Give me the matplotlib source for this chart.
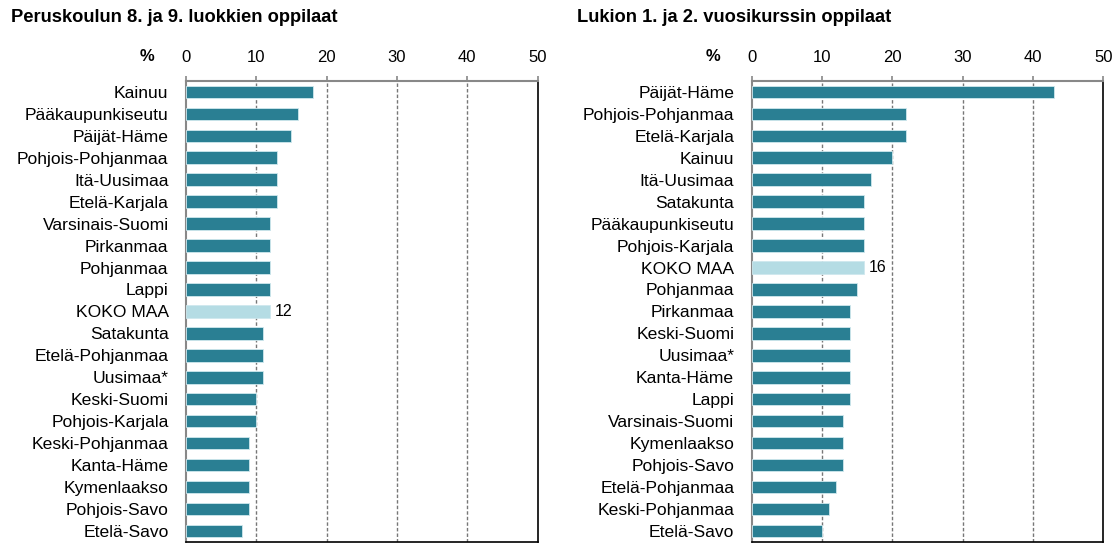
import matplotlib.pyplot as plt

plt.rcParams['font.family'] = ['Liberation Sans', 'DejaVu Sans']

# Peruskoulu 8.-9. lk
pk_alueet = ['Kainuu', 'Pääkaupunkiseutu', 'Päijät-Häme', 'Pohjois-Pohjanmaa', 'Itä-Uusimaa',
             'Etelä-Karjala', 'Varsinais-Suomi', 'Pirkanmaa', 'Pohjanmaa', 'Lappi', 'KOKO MAA',
             'Satakunta', 'Etelä-Pohjanmaa', 'Uusimaa*', 'Keski-Suomi', 'Pohjois-Karjala',
             'Keski-Pohjanmaa', 'Kanta-Häme', 'Kymenlaakso', 'Pohjois-Savo', 'Etelä-Savo']
pk_arvot = [18, 16, 15, 13, 13, 13, 12, 12, 12, 12, 12, 11, 11, 11, 10, 10, 9, 9, 9, 9, 8]

# Lukio 1.-2. vsk
lu_alueet = ['Päijät-Häme', 'Pohjois-Pohjanmaa', 'Etelä-Karjala', 'Kainuu', 'Itä-Uusimaa',
             'Satakunta', 'Pääkaupunkiseutu', 'Pohjois-Karjala', 'KOKO MAA', 'Pohjanmaa',
             'Pirkanmaa', 'Keski-Suomi', 'Uusimaa*', 'Kanta-Häme', 'Lappi', 'Varsinais-Suomi',
             'Kymenlaakso', 'Pohjois-Savo', 'Etelä-Pohjanmaa', 'Keski-Pohjanmaa', 'Etelä-Savo']
lu_arvot = [43, 22, 22, 20, 17, 16, 16, 16, 16, 15, 14, 14, 14, 14, 14, 13, 13, 13, 12, 11, 10]

otsikot = ['Peruskoulun 8. ja 9. luokkien oppilaat', 'Lukion 1. ja 2. vuosikurssin oppilaat']

tumma = '#2a7f93'
vaalea = '#b5dce4'

fig = plt.figure(figsize=(11.2, 5.43), dpi=100)
ax1 = fig.add_axes([0.166, 0.002, 0.314, 0.849])
ax2 = fig.add_axes([0.671, 0.002, 0.314, 0.849])


def piirra(ax, alueet, arvot, otsikko, otsikko_x):
    varit = [vaalea if a == 'KOKO MAA' else tumma for a in alueet]
    y = list(range(len(alueet)))
    ax.barh(y, arvot, height=0.57, color=varit, edgecolor='#cfe8ee', linewidth=0.6, zorder=3)
    ax.set_ylim(len(alueet) - 0.5, -0.5)
    ax.set_xlim(0, 50)
    ax.set_yticks(y)
    ax.set_yticklabels(alueet, fontsize=12.6)
    ax.tick_params(axis='y', length=0, pad=12.5)
    ax.xaxis.tick_top()
    ax.set_xticks([0, 10, 20, 30, 40, 50])
    ax.tick_params(axis='x', length=3.6, width=1.2, color='#888888', labelsize=12, pad=8)
    for x in [10, 20, 30, 40]:
        ax.axvline(x, color='#777777', linestyle=(0, (2.5, 1.5)), linewidth=1, zorder=1)
    for s in ['top', 'left']:
        ax.spines[s].set_color('#888888')
        ax.spines[s].set_linewidth(1.5)
    for s in ['right', 'bottom']:
        ax.spines[s].set_color('black')
        ax.spines[s].set_linewidth(1.2)
    # arvo koko maan palkin perään
    i = alueet.index('KOKO MAA')
    ax.text(arvot[i] + 0.7, i, str(arvot[i]), va='center', ha='left', fontsize=11.5)
    ax.text(-0.11, 1.052, '%', transform=ax.transAxes, fontsize=12, fontweight='bold',
            ha='center', va='center')
    fig.text(otsikko_x, 0.968, otsikko, fontsize=13.2, fontweight='bold', ha='left', va='center')


piirra(ax1, pk_alueet, pk_arvot, otsikot[0], 0.010)
piirra(ax2, lu_alueet, lu_arvot, otsikot[1], 0.515)

fig.savefig('out.png', dpi=100)
